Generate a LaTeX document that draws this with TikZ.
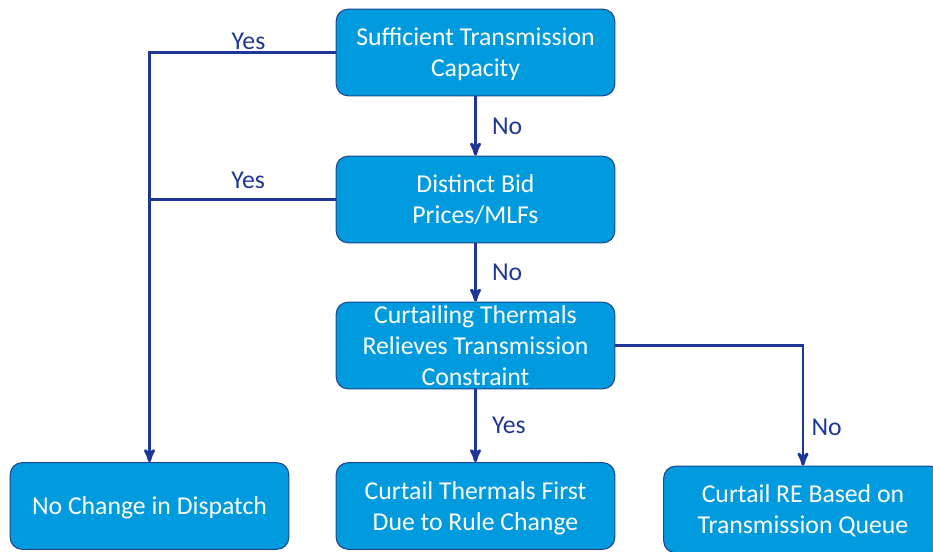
\documentclass[tikz,border=0pt]{standalone}
\usepackage{fontspec}
\setmainfont{Carlito}
\usetikzlibrary{arrows}
\definecolor{boxblue}{RGB}{0,155,222}
\definecolor{edgeblue}{RGB}{28,70,140}
\definecolor{linknavy}{RGB}{30,55,150}

\begin{document}
\begin{tikzpicture}[x=0.75pt,y=-0.75pt,>=stealth',semithick]
  \tikzstyle{decision}=[rectangle,rounded corners=9pt,draw=edgeblue,line width=0.8pt,
                        fill=boxblue,text=white,minimum width=209pt,minimum height=65pt,
                        align=center,inner sep=2pt,text depth=0pt,
                        font=\fontsize{19.3}{23.3}\selectfont]
  \tikzstyle{link}=[->,draw=linknavy,line width=2.2pt]
  \tikzstyle{answer}=[text=linknavy,font=\fontsize{19.3}{23.3}\selectfont]

  \useasboundingbox (0,0) rectangle (933,552);

  \node[decision] (suff)   at (475.5,52.5)  {Sufficient Transmission\\Capacity};
  \node[decision] (bid)    at (475.5,199.5) {Distinct Bid\\Prices/MLFs};
  \node[decision] (therm)  at (475.5,345.5) {Curtailing Thermals\\Relieves Transmission\\Constraint};
  \node[decision] (nochg)  at (149.5,506)   {No Change in Dispatch};
  \node[decision] (first)  at (475.5,506)   {Curtail Thermals First\\Due to Rule Change};
  \node[decision] (queue)  at (803,509.5)   {Curtail RE Based on\\Transmission Queue};

  \draw[link] (suff.west) -| node[answer,above,pos=0.234,yshift=-2pt] (yes1) {Yes} (nochg.north);
  \draw[link,-] (bid.west) -- node[answer,above,pos=0.47,yshift=4pt] (yes2) {Yes} (bid.west -| nochg.north);
  \draw[link] (suff) -- node[answer,right,xshift=8pt] (no1) {No} (bid);
  \draw[link] (bid) -- node[answer,right,xshift=8pt] (no2) {No} (therm);
  \draw[link] (therm) -- node[answer,right,xshift=8pt] (yes3) {Yes} (first);
  \draw[link] (therm.east) -| node[answer,right,pos=0.84,xshift=2pt] (no3) {No} (queue.north);

\end{tikzpicture}
\end{document}
